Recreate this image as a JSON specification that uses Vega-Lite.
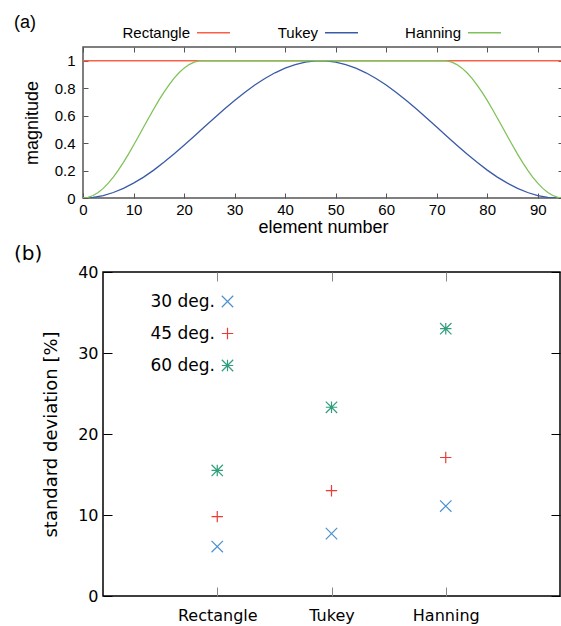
{
  "$schema": "https://vega.github.io/schema/vega-lite/v6.json",
  "padding": {"left": 13, "top": 13, "right": 0, "bottom": 0},
  "background": "white",
  "resolve": {"scale": {"color": "independent", "shape": "independent"}, "legend": {"color": "independent", "shape": "independent"}},
  "spacing": 6,
  "vconcat": [
    {
      "width": 480,
      "height": 151,
      "view": {"stroke": "#555555", "strokeWidth": 1.5},
      "title": {"text": "(a)", "anchor": "start", "frame": "group", "dx": -69, "offset": -17, "font": "Liberation Sans", "fontSize": 18, "fontWeight": "normal", "color": "#000000"},
      "data": {"values": [
        {"window": "Rectangle", "n": 0, "w": 1}, {"window": "Rectangle", "n": 95, "w": 1},
        {"window": "Tukey", "n": 0, "w": 0}, {"window": "Tukey", "n": 2, "w": 0.004}, {"window": "Tukey", "n": 4, "w": 0.018}, {"window": "Tukey", "n": 6, "w": 0.04}, {"window": "Tukey", "n": 8, "w": 0.07}, {"window": "Tukey", "n": 10, "w": 0.108}, {"window": "Tukey", "n": 12, "w": 0.152}, {"window": "Tukey", "n": 14, "w": 0.203}, {"window": "Tukey", "n": 16, "w": 0.26}, {"window": "Tukey", "n": 18, "w": 0.32}, {"window": "Tukey", "n": 20, "w": 0.384}, {"window": "Tukey", "n": 22, "w": 0.45}, {"window": "Tukey", "n": 24, "w": 0.517}, {"window": "Tukey", "n": 26, "w": 0.583}, {"window": "Tukey", "n": 28, "w": 0.648}, {"window": "Tukey", "n": 30, "w": 0.711}, {"window": "Tukey", "n": 32, "w": 0.769}, {"window": "Tukey", "n": 34, "w": 0.823}, {"window": "Tukey", "n": 36, "w": 0.871}, {"window": "Tukey", "n": 38, "w": 0.912}, {"window": "Tukey", "n": 40, "w": 0.946}, {"window": "Tukey", "n": 42, "w": 0.972}, {"window": "Tukey", "n": 44, "w": 0.99}, {"window": "Tukey", "n": 46, "w": 0.999}, {"window": "Tukey", "n": 47, "w": 1}, {"window": "Tukey", "n": 48, "w": 0.999}, {"window": "Tukey", "n": 50, "w": 0.99}, {"window": "Tukey", "n": 52, "w": 0.972}, {"window": "Tukey", "n": 54, "w": 0.946}, {"window": "Tukey", "n": 56, "w": 0.912}, {"window": "Tukey", "n": 58, "w": 0.871}, {"window": "Tukey", "n": 60, "w": 0.823}, {"window": "Tukey", "n": 62, "w": 0.769}, {"window": "Tukey", "n": 64, "w": 0.711}, {"window": "Tukey", "n": 66, "w": 0.648}, {"window": "Tukey", "n": 68, "w": 0.583}, {"window": "Tukey", "n": 70, "w": 0.517}, {"window": "Tukey", "n": 72, "w": 0.45}, {"window": "Tukey", "n": 74, "w": 0.384}, {"window": "Tukey", "n": 76, "w": 0.32}, {"window": "Tukey", "n": 78, "w": 0.26}, {"window": "Tukey", "n": 80, "w": 0.203}, {"window": "Tukey", "n": 82, "w": 0.152}, {"window": "Tukey", "n": 84, "w": 0.108}, {"window": "Tukey", "n": 86, "w": 0.07}, {"window": "Tukey", "n": 88, "w": 0.04}, {"window": "Tukey", "n": 90, "w": 0.018}, {"window": "Tukey", "n": 92, "w": 0.004}, {"window": "Tukey", "n": 94, "w": 0},
        {"window": "Hanning", "n": 0, "w": 0}, {"window": "Hanning", "n": 1, "w": 0.004}, {"window": "Hanning", "n": 2, "w": 0.018}, {"window": "Hanning", "n": 3, "w": 0.04}, {"window": "Hanning", "n": 4, "w": 0.07}, {"window": "Hanning", "n": 5, "w": 0.108}, {"window": "Hanning", "n": 6, "w": 0.152}, {"window": "Hanning", "n": 7, "w": 0.203}, {"window": "Hanning", "n": 8, "w": 0.26}, {"window": "Hanning", "n": 9, "w": 0.32}, {"window": "Hanning", "n": 10, "w": 0.384}, {"window": "Hanning", "n": 11, "w": 0.45}, {"window": "Hanning", "n": 12, "w": 0.517}, {"window": "Hanning", "n": 13, "w": 0.583}, {"window": "Hanning", "n": 14, "w": 0.648}, {"window": "Hanning", "n": 15, "w": 0.711}, {"window": "Hanning", "n": 16, "w": 0.769}, {"window": "Hanning", "n": 17, "w": 0.823}, {"window": "Hanning", "n": 18, "w": 0.871}, {"window": "Hanning", "n": 19, "w": 0.912}, {"window": "Hanning", "n": 20, "w": 0.946}, {"window": "Hanning", "n": 21, "w": 0.972}, {"window": "Hanning", "n": 22, "w": 0.99}, {"window": "Hanning", "n": 23, "w": 0.999}, {"window": "Hanning", "n": 24, "w": 1},
        {"window": "Hanning", "n": 71, "w": 1}, {"window": "Hanning", "n": 72, "w": 0.999}, {"window": "Hanning", "n": 73, "w": 0.99}, {"window": "Hanning", "n": 74, "w": 0.972}, {"window": "Hanning", "n": 75, "w": 0.946}, {"window": "Hanning", "n": 76, "w": 0.912}, {"window": "Hanning", "n": 77, "w": 0.871}, {"window": "Hanning", "n": 78, "w": 0.823}, {"window": "Hanning", "n": 79, "w": 0.769}, {"window": "Hanning", "n": 80, "w": 0.711}, {"window": "Hanning", "n": 81, "w": 0.648}, {"window": "Hanning", "n": 82, "w": 0.583}, {"window": "Hanning", "n": 83, "w": 0.517}, {"window": "Hanning", "n": 84, "w": 0.45}, {"window": "Hanning", "n": 85, "w": 0.384}, {"window": "Hanning", "n": 86, "w": 0.32}, {"window": "Hanning", "n": 87, "w": 0.26}, {"window": "Hanning", "n": 88, "w": 0.203}, {"window": "Hanning", "n": 89, "w": 0.152}, {"window": "Hanning", "n": 90, "w": 0.108}, {"window": "Hanning", "n": 91, "w": 0.07}, {"window": "Hanning", "n": 92, "w": 0.04}, {"window": "Hanning", "n": 93, "w": 0.018}, {"window": "Hanning", "n": 94, "w": 0.004}, {"window": "Hanning", "n": 95, "w": 0}
      ]},
      "resolve": {"axis": {"x": "independent", "y": "independent"}},
      "layer": [
        {
          "mark": {"type": "line", "strokeWidth": 1.3, "clip": true},
          "encoding": {
            "x": {"field": "n", "type": "quantitative", "scale": {"domain": [0, 95], "nice": false, "zero": false},
              "axis": {"orient": "bottom", "values": [0, 10, 20, 30, 40, 50, 60, 70, 80, 90], "domain": false, "grid": false, "tickSize": -5, "tickColor": "#555555", "labelFont": "Liberation Sans", "labelFontSize": 15, "labelColor": "#000000", "labelPadding": 9, "labelFlush": false, "title": "element number", "titleFont": "Liberation Sans", "titleFontSize": 18, "titleFontWeight": "normal", "titleColor": "#000000", "titlePadding": 1}},
            "y": {"field": "w", "type": "quantitative", "scale": {"domain": [0, 1.1], "nice": false},
              "axis": {"orient": "left", "values": [0, 0.2, 0.4, 0.6, 0.8, 1], "format": "~g", "domain": false, "grid": false, "tickSize": -5, "tickColor": "#555555", "labelFont": "Liberation Sans", "labelFontSize": 15, "labelColor": "#000000", "labelPadding": 13, "labelFlush": false, "title": "magnitude", "titleFont": "Liberation Sans", "titleFontSize": 18, "titleFontWeight": "normal", "titleColor": "#000000", "titlePadding": 13}},
            "color": {"field": "window", "type": "nominal",
              "scale": {"domain": ["Rectangle", "Tukey", "Hanning"], "range": ["#fa6046", "#3a5aa8", "#80c25a"]},
              "legend": {"orient": "none", "legendX": 113, "legendY": -32, "direction": "horizontal", "columns": 3, "title": null, "symbolType": "stroke", "symbolSize": 1089, "symbolStrokeWidth": 1.3, "labelAlign": "right", "labelOffset": -41, "columnPadding": 44, "labelFont": "Liberation Sans", "labelFontSize": 15, "labelColor": "#000000", "padding": 0, "labelLimit": 0}}
          }
        },
        {
          "mark": {"type": "line", "opacity": 0},
          "encoding": {
            "x": {"field": "n", "type": "quantitative", "axis": {"orient": "top", "values": [0, 10, 20, 30, 40, 50, 60, 70, 80, 90], "domain": false, "grid": false, "labels": false, "tickSize": -5, "tickColor": "#555555", "title": null}},
            "y": {"field": "w", "type": "quantitative", "axis": {"orient": "right", "values": [0, 0.2, 0.4, 0.6, 0.8, 1], "domain": false, "grid": false, "labels": false, "tickSize": -5, "tickColor": "#555555", "title": null}}
          }
        }
      ]
    },
    {
      "resolve": {"scale": {"color": "independent", "shape": "independent"}, "legend": {"color": "independent", "shape": "independent"}},
      "bounds": "flush",
      "spacing": 0,
      "hconcat": [
        {
          "width": 20,
          "height": 10,
          "view": {"stroke": null},
          "data": {"values": [{"v": 0}]},
          "mark": {"type": "point", "opacity": 0},
          "encoding": {}
        },
        {
          "width": 457,
          "height": 324,
          "view": {"stroke": "#000000", "strokeWidth": 1.5},
          "title": {"text": "(b)", "anchor": "start", "frame": "group", "dx": -89, "offset": 0, "font": "DejaVu Sans", "fontSize": 20, "fontWeight": "normal", "color": "#000000"},
          "data": {"values": [
            {"window": "Rectangle", "angle": "30 deg.", "sd": 6.1},
            {"window": "Rectangle", "angle": "45 deg.", "sd": 9.8},
            {"window": "Rectangle", "angle": "60 deg.", "sd": 15.5},
            {"window": "Tukey", "angle": "30 deg.", "sd": 7.7},
            {"window": "Tukey", "angle": "45 deg.", "sd": 13.0},
            {"window": "Tukey", "angle": "60 deg.", "sd": 23.3},
            {"window": "Hanning", "angle": "30 deg.", "sd": 11.1},
            {"window": "Hanning", "angle": "45 deg.", "sd": 17.1},
            {"window": "Hanning", "angle": "60 deg.", "sd": 33.0}
          ]},
          "resolve": {"axis": {"x": "independent", "y": "independent"}},
          "layer": [
            {
              "mark": {"type": "point", "filled": false, "strokeWidth": 1.2, "size": 130, "opacity": 1},
              "encoding": {
                "x": {"field": "window", "type": "nominal", "sort": ["Rectangle", "Tukey", "Hanning"], "scale": {"type": "point", "padding": 1, "domain": ["Rectangle", "Tukey", "Hanning"]},
                  "axis": {"orient": "bottom", "domain": false, "grid": false, "tickSize": -9, "tickColor": "#888888", "labelAngle": 0, "labelFont": "DejaVu Sans", "labelFontSize": 16, "labelColor": "#000000", "labelPadding": 20, "title": null}},
                "y": {"field": "sd", "type": "quantitative", "scale": {"domain": [0, 40], "nice": false},
                  "axis": {"orient": "left", "values": [0, 10, 20, 30, 40], "domain": false, "grid": false, "tickSize": -9, "tickColor": "#000000", "labelFont": "DejaVu Sans", "labelFontSize": 16, "labelColor": "#000000", "labelPadding": 14, "labelFlush": false, "title": "standard deviation [%]", "titleFont": "DejaVu Sans", "titleFontSize": 18, "titleFontWeight": "normal", "titleColor": "#000000", "titlePadding": 17}},
                "color": {"field": "angle", "type": "nominal",
                  "scale": {"domain": ["30 deg.", "45 deg.", "60 deg."], "range": ["#4a90d0", "#ec3a34", "#2e9e7c"]},
                  "legend": {"orient": "none", "legendX": 116, "legendY": 21, "direction": "vertical", "title": null, "symbolSize": 130, "symbolStrokeWidth": 1.2, "labelAlign": "right", "labelOffset": -21, "rowPadding": 14, "labelFont": "DejaVu Sans", "labelFontSize": 17, "labelColor": "#000000", "padding": 0, "labelLimit": 0}},
                "shape": {"field": "angle", "type": "nominal",
                  "scale": {"domain": ["30 deg.", "45 deg.", "60 deg."], "range": ["M-1,-1L1,1M-1,1L1,-1", "M-1,0L1,0M0,-1L0,1", "M-1,0L1,0M0,-1L0,1M-1,-1L1,1M-1,1L1,-1"]},
                  "legend": {"orient": "none", "legendX": 116, "legendY": 21, "direction": "vertical", "title": null, "symbolSize": 130, "symbolStrokeWidth": 1.2, "labelAlign": "right", "labelOffset": -21, "rowPadding": 14, "labelFont": "DejaVu Sans", "labelFontSize": 17, "labelColor": "#000000", "padding": 0, "labelLimit": 0}}
              }
            },
            {
              "mark": {"type": "point", "opacity": 0},
              "encoding": {
                "x": {"field": "window", "type": "nominal", "axis": {"orient": "top", "domain": false, "grid": false, "labels": false, "tickSize": -9, "tickColor": "#888888", "title": null}},
                "y": {"field": "sd", "type": "quantitative", "axis": {"orient": "right", "values": [0, 10, 20, 30, 40], "domain": false, "grid": false, "labels": false, "tickSize": -9, "tickColor": "#000000", "title": null}}
              }
            }
          ]
        }
      ]
    }
  ]
}
